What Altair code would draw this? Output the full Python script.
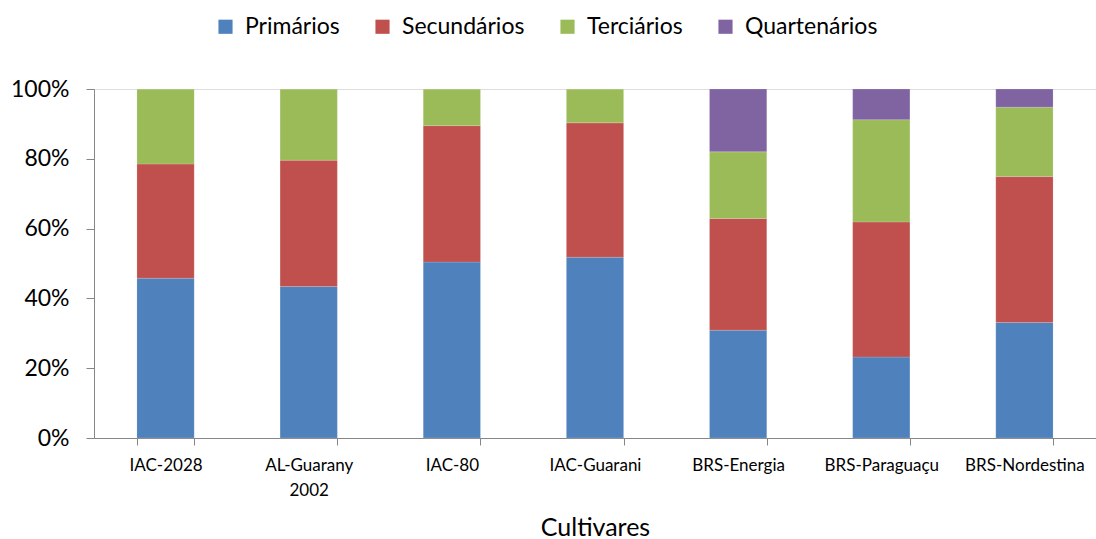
import altair as alt
import pandas as pd

cultivars = ["IAC-2028", "AL-Guarany 2002", "IAC-80", "IAC-Guarani",
             "BRS-Energia", "BRS-Paraguaçu", "BRS-Nordestina"]
series = ["Primários", "Secundários", "Terciários", "Quartenários"]
primarios = [45.8, 43.4, 50.4, 51.8, 30.9, 23.2, 33.1]
secundarios = [32.7, 36.2, 39.1, 38.5, 32.0, 38.7, 41.8]
terciarios = [21.5, 20.4, 10.5, 9.7, 19.1, 29.3, 19.9]
quartenarios = [0.0, 0.0, 0.0, 0.0, 18.0, 8.8, 5.2]
colors = ["#4F81BD", "#C0504D", "#9BBB59", "#8064A2"]

rows = []
for i, c in enumerate(cultivars):
    for j, (s, vals) in enumerate(zip(series, [primarios, secundarios, terciarios, quartenarios])):
        rows.append({"Cultivar": c, "Serie": s, "idx": j, "v": vals[i] / 100.0})
df = pd.DataFrame(rows)

FONT = "Lato"

chart = alt.Chart(df).mark_bar(stroke="#ffffff", strokeWidth=0.3, strokeOpacity=0.5).encode(
    x=alt.X("Cultivar:N", sort=cultivars, title="Cultivares",
            scale=alt.Scale(paddingInner=0.6, paddingOuter=0.3),
            axis=alt.Axis(labelAngle=0, labelFontSize=17, labelFont=FONT, labelColor="#000000",
                          labelPadding=12, labelLineHeight=25, labelBaseline="top",
                          labelExpr="datum.label == 'AL-Guarany 2002' ? ['AL-Guarany', '2002'] : datum.label",
                          titleFontSize=25, titleFont=FONT, titleFontWeight="normal", titleColor="#000000",
                          titlePadding=17, tickBand="extent", tickSize=7, tickColor="#868686",
                          domainColor="#868686", labelLimit=200)),
    y=alt.Y("v:Q", stack="zero", title=None,
            scale=alt.Scale(domain=[0, 1], nice=False),
            axis=alt.Axis(format=".0%", values=[0, 0.2, 0.4, 0.6, 0.8, 1.0], grid=False,
                          labelFontSize=23, labelFont=FONT, labelColor="#000000",
                          labelPadding=17, tickSize=8, tickColor="#868686", domainColor="#868686")),
    color=alt.Color("Serie:N", sort=series,
                    scale=alt.Scale(domain=series, range=colors),
                    legend=alt.Legend(title=None, orient="none", direction="horizontal",
                                      legendX=120, legendY=-74, symbolType="square", symbolSize=200,
                                      symbolStrokeWidth=0, labelFontSize=23, labelFont=FONT,
                                      labelColor="#000000", columnPadding=31, labelOffset=8)),
    order=alt.Order("idx:Q", sort="ascending"),
).properties(
    width=1002, height=349,
    autosize=alt.AutoSizeParams(type="none"),
    padding={"left": 94, "top": 89, "right": 0, "bottom": 101},
).configure_view(stroke=None).configure(background="#ffffff")

chart.save("out.html", embed_options={"renderer": "svg", "actions": False})
